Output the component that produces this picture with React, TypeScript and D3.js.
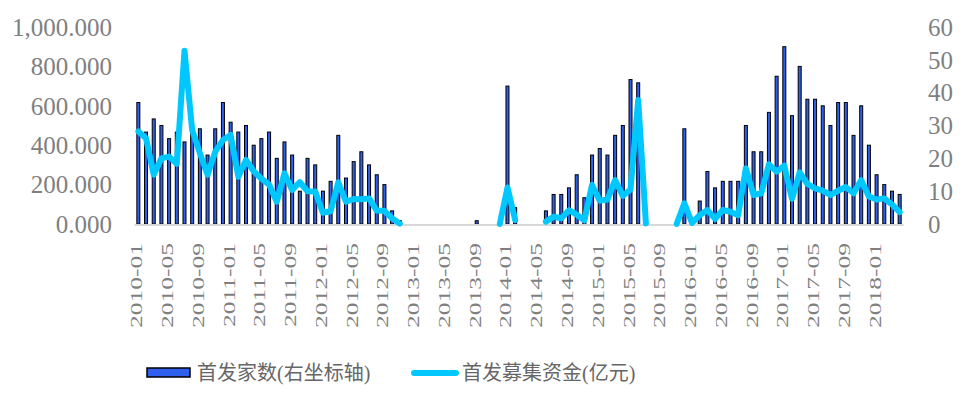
import React, { useEffect, useRef } from 'react';
import * as d3 from 'd3';

// months 2010-01 .. 2018-04
const years = [2010, 2011, 2012, 2013, 2014, 2015, 2016, 2017, 2018];
const months = years.flatMap(y =>
  d3.range(1, 13).map(m => `${y}-${String(m).padStart(2, '0')}`)
).slice(0, 100);

const tickLabels = [
  '2010-01', '2010-05', '2010-09', '2011-01', '2011-05', '2011-09', '2012-01',
  '2012-05', '2012-09', '2013-01', '2013-05', '2013-09', '2014-01', '2014-05',
  '2014-09', '2015-01', '2015-05', '2015-09', '2016-01', '2016-05', '2016-09',
  '2017-01', '2017-05', '2017-09', '2018-01',
];

// 首发家数 (right axis)
const ipoCount = [
  37, 28, 32, 30, 26, 28, 25, 29, 29, 21, 29, 37,
  31, 28, 30, 24, 26, 28, 20, 25, 21, 10, 20, 18,
  10, 13, 27, 14, 19, 22, 18, 15, 12, 4, 1, 0,
  0, 0, 0, 0, 0, 0, 0, 0, 1, 0, 0, 0,
  42, 5, 0, 0, 0, 4, 9, 9, 11, 15, 8, 21,
  23, 21, 27, 30, 44, 43, 0, 0, 0, 0, 0, 29,
  0, 7, 16, 11, 13, 13, 13, 30, 22, 22, 34, 45,
  54, 33, 48, 38, 38, 36, 30, 37, 37, 27, 36, 24,
  15, 12, 10, 9,
];

// 首发募集资金 (亿元, left axis)
const ipoFunds = [
  470, 435, 250, 333, 342, 305, 880, 477, 360, 250, 367, 426,
  452, 240, 325, 268, 230, 200, 113, 257, 173, 212, 166, 165,
  57, 65, 212, 113, 127, 126, 130, 68, 66, 29, 2, null,
  null, null, null, null, null, null, null, null, null, null, null, 0,
  185, 20, null, null, null, 12, 37, 29, 70, 48, 18, 198,
  118, 124, 223, 143, 175, 630, 3, null, null, null, 0, 105,
  5, 45, 71, 26, 71, 62, 45, 283, 147, 156, 303, 266,
  296, 128, 262, 203, 181, 169, 147, 169, 188, 156, 222, 140,
  124, 130, 99, 60,
];

const leftTicks = [0, 200, 400, 600, 800, 1000];
const rightTicks = [0, 10, 20, 30, 40, 50, 60];

const BAR_FILL = '#3060ee';
const LINE_COLOR = '#00c8ff';
const TEXT_GRAY = '#7f7f7f';
const SERIF = '"Liberation Serif", "Times New Roman", serif';
const CJK = '"Liberation Serif", "Noto Sans CJK SC", serif';

const App = () => {
  const chartRef = useRef<SVGSVGElement>(null);

  useEffect(() => {
    drawChart();
  }, []);

  const drawChart = () => {
    const svg = d3.select(chartRef.current);
    svg.selectAll('*').remove();

    const base = 224;
    const top = 27;

    const x = d3.scaleBand<string>()
      .domain(months)
      .range([134.5, 903.5])
      .padding(0);

    const yLeft = d3.scaleLinear().domain([0, 1000]).range([base, top]);
    const yRight = d3.scaleLinear().domain([0, 60]).range([base, top]);
    const cx = (m: string) => (x(m) as number) + x.bandwidth() / 2;

    // left axis labels
    svg.append('g')
      .selectAll('text')
      .data(leftTicks)
      .enter().append('text')
      .attr('x', 112)
      .attr('y', d => yLeft(d))
      .attr('dy', '0.35em')
      .attr('text-anchor', 'end')
      .style('font-family', SERIF)
      .style('font-size', '25px')
      .style('fill', TEXT_GRAY)
      .text(d => d3.format(',.3f')(d));

    // right axis labels
    svg.append('g')
      .selectAll('text')
      .data(rightTicks)
      .enter().append('text')
      .attr('x', 928)
      .attr('y', d => yRight(d))
      .attr('dy', '0.35em')
      .style('font-family', SERIF)
      .style('font-size', '25px')
      .style('fill', TEXT_GRAY)
      .text(d => d);

    // bars
    const barW = 3;
    svg.append('g')
      .selectAll('rect')
      .data(months.map((m, i) => ({ m, v: ipoCount[i] })).filter(d => d.v > 0))
      .enter().append('rect')
      .attr('x', d => cx(d.m) - barW / 2)
      .attr('y', d => yRight(d.v))
      .attr('width', barW)
      .attr('height', d => base - yRight(d.v))
      .attr('fill', BAR_FILL)
      .attr('stroke', '#000')
      .attr('stroke-width', 1);

    // baseline
    svg.append('line')
      .attr('x1', 134.5)
      .attr('x2', 903.5)
      .attr('y1', base + 1)
      .attr('y2', base + 1)
      .attr('stroke', '#d9d9d9')
      .attr('stroke-width', 2);

    // line
    const line = d3.line<number | null>()
      .defined(d => d != null)
      .x((_, i) => cx(months[i]))
      .y(d => yLeft(d as number));

    svg.append('path')
      .datum(ipoFunds)
      .attr('d', line)
      .attr('fill', 'none')
      .attr('stroke', LINE_COLOR)
      .attr('stroke-width', 6)
      .attr('stroke-linejoin', 'round')
      .attr('stroke-linecap', 'round');

    // x labels
    svg.append('g')
      .selectAll('text')
      .data(tickLabels)
      .enter().append('text')
      .attr('transform', d => `translate(${cx(d) + 4},243) rotate(-90) scale(1.5,1)`)
      .attr('text-anchor', 'end')
      .style('font-family', SERIF)
      .style('font-size', '17px')
      .style('fill', TEXT_GRAY)
      .text(d => d);

    // legend
    const lg = svg.append('g');
    lg.append('rect')
      .attr('x', 147)
      .attr('y', 368)
      .attr('width', 43)
      .attr('height', 9)
      .attr('fill', BAR_FILL)
      .attr('stroke', '#000')
      .attr('stroke-width', 1.5);
    lg.append('text')
      .attr('x', 197)
      .attr('y', 373)
      .attr('dominant-baseline', 'central')
      .style('font-family', CJK)
      .style('font-size', '20px')
      .style('fill', '#666')
      .text('首发家数(右坐标轴)');
    lg.append('line')
      .attr('x1', 414)
      .attr('x2', 456)
      .attr('y1', 373)
      .attr('y2', 373)
      .attr('stroke', LINE_COLOR)
      .attr('stroke-width', 6)
      .attr('stroke-linecap', 'round');
    lg.append('text')
      .attr('x', 462)
      .attr('y', 373)
      .attr('dominant-baseline', 'central')
      .style('font-family', CJK)
      .style('font-size', '20px')
      .style('fill', '#666')
      .text('首发募集资金(亿元)');
  };

  return (
    <svg
      ref={chartRef}
      width={972}
      height={396}
      style={{ position: 'absolute', left: 0, top: 0, background: '#fff' }}
    />
  );
};

export default App;
